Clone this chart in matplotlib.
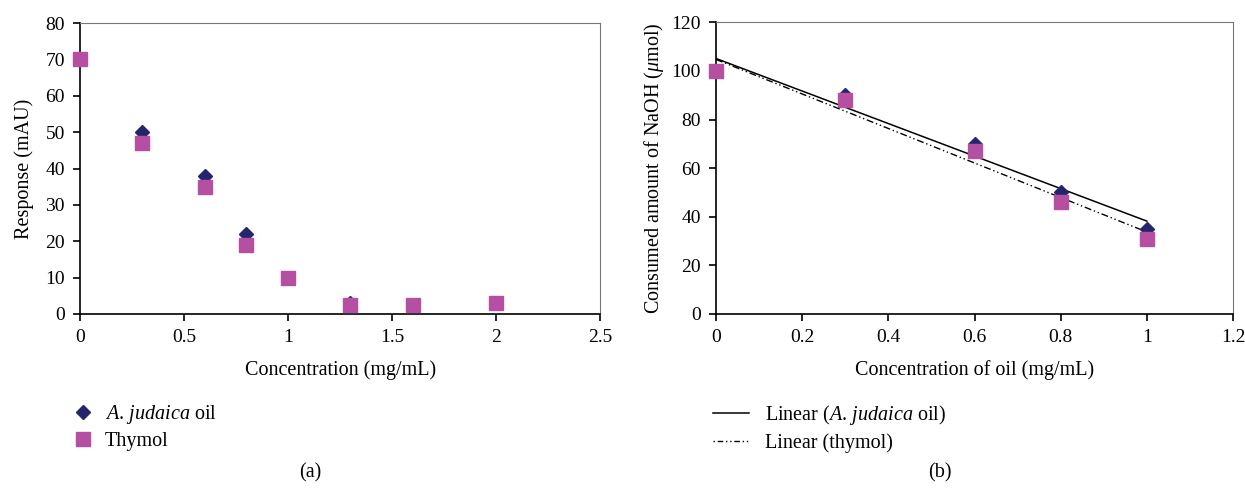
import numpy as np
import matplotlib
matplotlib.use("Agg")
import matplotlib.pyplot as plt
from matplotlib.lines import Line2D

plt.rcParams['font.family'] = ['Liberation Serif', 'DejaVu Serif']
plt.rcParams['mathtext.fontset'] = 'custom'
plt.rcParams['mathtext.rm'] = 'Liberation Serif'
plt.rcParams['mathtext.it'] = 'Liberation Serif:italic'

# Panel (a) data
conc_a = [0, 0.3, 0.6, 0.8, 1.0, 1.3, 1.6, 2.0]
judaica_a = [70, 50, 38, 22, 10, 3, 2.5, 3]
thymol_a = [70, 47, 35, 19, 10, 2.5, 2.5, 3]

# Panel (b) data
conc_b = [0, 0.3, 0.6, 0.8, 1.0]
judaica_b = [100, 90, 70, 50, 35]
thymol_b = [100, 88, 67, 46, 31]

navy = '#25256e'
magenta = '#b44fa2'

fig = plt.figure(figsize=(12.45, 4.88), dpi=100)
axa = fig.add_axes([0.0643, 0.3566, 0.4177, 0.596])
axb = fig.add_axes([0.5751, 0.3566, 0.4153, 0.5975])

fs = 14.5
tfs = 14
for ax in (axa, axb):
    for side in ('top', 'right'):
        ax.spines[side].set_linewidth(0.8)
        ax.spines[side].set_color('#777777')
    ax.spines['left'].set_linewidth(1.2)
    ax.spines['bottom'].set_linewidth(1.2)
    ax.tick_params(direction='out', length=5, width=1.2, labelsize=tfs, pad=6)

# Panel (a)
axa.plot(conc_a, judaica_a, linestyle='none', marker='D', markersize=7,
         color=navy, zorder=3, clip_on=False)
axa.plot(conc_a, thymol_a, linestyle='none', marker='s', markersize=9.5,
         color=magenta, zorder=4, clip_on=False)
axa.set_xlim(0, 2.5)
axa.set_ylim(0, 80)
axa.set_xticks([0, 0.5, 1, 1.5, 2, 2.5])
axa.set_xticklabels(['0', '0.5', '1', '1.5', '2', '2.5'])
axa.set_yticks(range(0, 81, 10))
axa.set_xlabel('Concentration (mg/mL)', fontsize=fs, labelpad=10)
axa.set_ylabel('Response (mAU)', fontsize=fs, labelpad=8)

# Panel (b)
pj = np.polyfit(conc_b, judaica_b, 1)
pt = np.polyfit(conc_b, thymol_b, 1)
xf = np.array([0.0, 1.0])
axb.plot(xf, np.polyval(pj, xf), color='black', linewidth=1.1, zorder=2)
axb.plot(xf, np.polyval(pt, xf), color='black', linewidth=1.0,
         linestyle=(0, (5, 2, 1, 2, 1, 2)), zorder=2)
axb.plot(conc_b, judaica_b, linestyle='none', marker='D', markersize=7,
         color=navy, zorder=3, clip_on=False)
axb.plot(conc_b, thymol_b, linestyle='none', marker='s', markersize=9.5,
         color=magenta, zorder=4, clip_on=False)
axb.set_xlim(0, 1.2)
axb.set_ylim(0, 120)
axb.set_xticks([0, 0.2, 0.4, 0.6, 0.8, 1, 1.2])
axb.set_xticklabels(['0', '0.2', '0.4', '0.6', '0.8', '1', '1.2'])
axb.set_yticks(range(0, 121, 20))
axb.set_xlabel('Concentration of oil (mg/mL)', fontsize=fs, labelpad=10)
axb.set_ylabel(r'Consumed amount of NaOH ($\mathit{\mu}$mol)', fontsize=fs, labelpad=4)

# Legends
ha = [Line2D([], [], linestyle='none', marker='D', markersize=7, color=navy),
      Line2D([], [], linestyle='none', marker='s', markersize=9.5, color=magenta)]
fig.legend(ha, [r'$\mathit{A.\,judaica}$ oil', 'Thymol'],
           loc='upper left', bbox_to_anchor=(0.052, 0.19), frameon=False,
           fontsize=fs, handlelength=1.0, handletextpad=0.6, labelspacing=0.3,
           borderaxespad=0)
hb = [Line2D([], [], color='black', linewidth=1.1),
      Line2D([], [], color='black', linewidth=1.0, linestyle=(0, (1, 2, 4, 2, 1, 2)))]
fig.legend(hb, [r'Linear ($\mathit{A.\,judaica}$ oil)', 'Linear (thymol)'],
           loc='upper left', bbox_to_anchor=(0.566, 0.19), frameon=False,
           fontsize=fs, handlelength=1.8, handletextpad=0.8, labelspacing=0.3,
           borderaxespad=0)

fig.text(0.2490, 0.022, '(a)', fontsize=fs, ha='center')
fig.text(0.7550, 0.022, '(b)', fontsize=fs, ha='center')

fig.savefig('out.png', dpi=100)
